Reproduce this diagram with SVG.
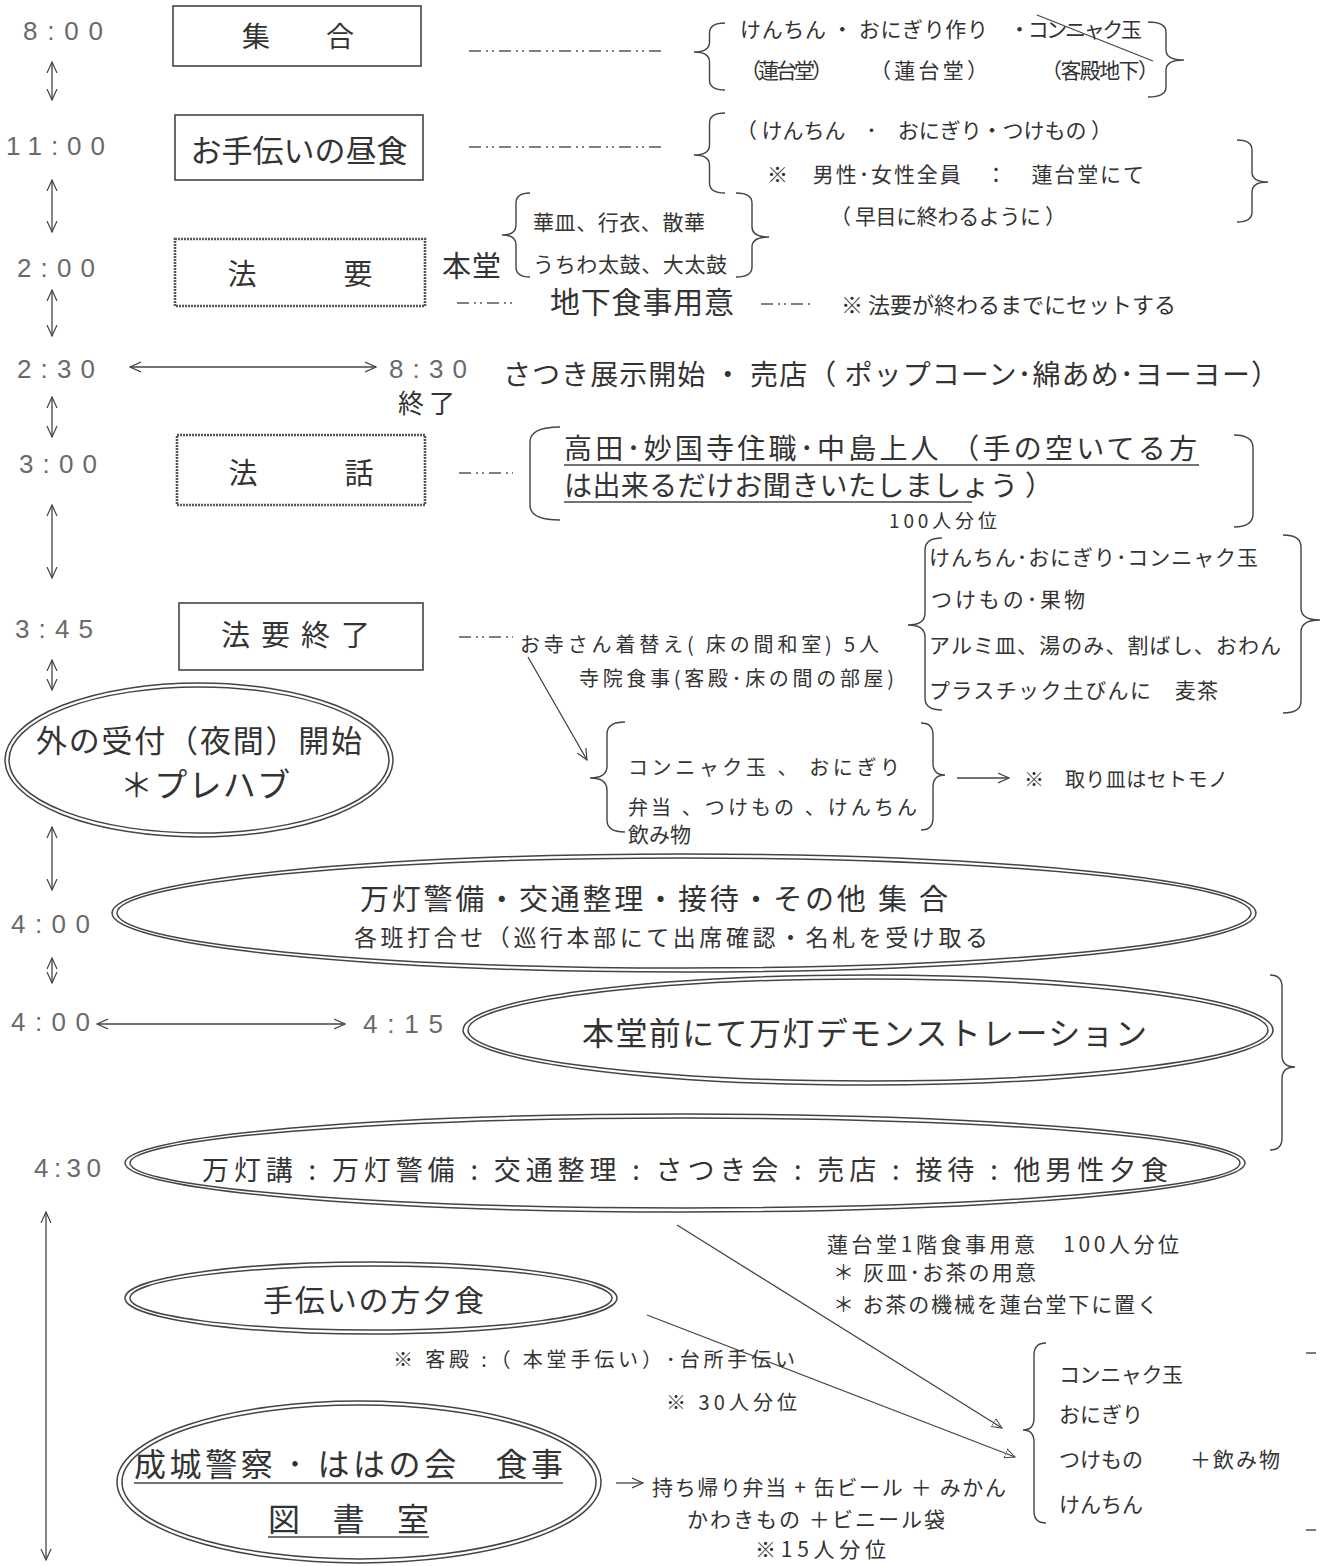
<svg xmlns="http://www.w3.org/2000/svg" width="1322" height="1566" viewBox="0 0 1322 1566">
<style>
text{font-family:"Noto Sans CJK JP","Liberation Sans",sans-serif;fill:#333}
.tm{font-family:"Liberation Sans","Noto Sans CJK JP",sans-serif;fill:#6a6a6a;font-size:26px}
.box{fill:none;stroke:#444;stroke-width:1.6}
.gbox{fill:none;stroke:#555;stroke-width:2.6;stroke-dasharray:2 1}
.ln{fill:none;stroke:#444;stroke-width:1.3}
.dd{fill:none;stroke:#555;stroke-width:1.6;stroke-dasharray:12 5 2 4 2 5}
.br{fill:none;stroke:#444;stroke-width:1.4}
.el{fill:none;stroke:#444;stroke-width:1.5}
.ul{stroke:#444;stroke-width:1.4}
.s20{font-size:20px}.s21{font-size:21px}.s22{font-size:22px}
</style>
<defs>
<marker id="ah" viewBox="0 0 12 12" refX="11" refY="6" markerWidth="12" markerHeight="12" markerUnits="userSpaceOnUse" orient="auto-start-reverse"><path d="M0,1 L11,6 L0,11" fill="none" stroke="#444" stroke-width="1.2"/></marker>
<marker id="at" viewBox="0 0 12 12" refX="11" refY="6" markerWidth="11" markerHeight="11" markerUnits="userSpaceOnUse" orient="auto"><path d="M0,1 L11,6 L0,11 Z" fill="none" stroke="#444" stroke-width="1.1"/></marker>
</defs>

<g id="times">
<text class="tm" x="23" y="40" textLength="80">8:00</text>
<text class="tm" x="6" y="155" textLength="99">11:00</text>
<text class="tm" x="17" y="277" textLength="78">2:00</text>
<text class="tm" x="17" y="378" textLength="78">2:30</text>
<text class="tm" x="19" y="473" textLength="78">3:00</text>
<text class="tm" x="15" y="638" textLength="78">3:45</text>
<text class="tm" x="11" y="933" textLength="79">4:00</text>
<text class="tm" x="11" y="1031" textLength="79">4:00</text>
<text class="tm" x="34" y="1177" textLength="67">4:30</text>
<text class="tm" x="389" y="378" textLength="78">8:30</text>
<text class="tm" x="363" y="1033" textLength="80">4:15</text>
</g>

<g id="connectors">
<line class="ln" x1="52" y1="62" x2="52" y2="100" marker-start="url(#ah)" marker-end="url(#ah)"/>
<line class="ln" x1="52" y1="180" x2="52" y2="232" marker-start="url(#ah)" marker-end="url(#ah)"/>
<line class="ln" x1="52" y1="290" x2="52" y2="336" marker-start="url(#ah)" marker-end="url(#ah)"/>
<line class="ln" x1="52" y1="397" x2="52" y2="437" marker-start="url(#ah)" marker-end="url(#ah)"/>
<line class="ln" x1="52" y1="505" x2="52" y2="578" marker-start="url(#ah)" marker-end="url(#ah)"/>
<line class="ln" x1="52" y1="660" x2="52" y2="690" marker-start="url(#ah)" marker-end="url(#ah)"/>
<line class="ln" x1="52" y1="827" x2="52" y2="890" marker-start="url(#ah)" marker-end="url(#ah)"/>
<line class="ln" x1="52" y1="958" x2="52" y2="983" marker-start="url(#ah)" marker-end="url(#ah)"/>
<line class="ln" x1="46" y1="1212" x2="46" y2="1560" marker-start="url(#ah)" marker-end="url(#ah)"/>
<line class="ln" x1="130" y1="367" x2="376" y2="367" marker-start="url(#ah)" marker-end="url(#ah)"/>
<line class="ln" x1="97" y1="1024" x2="345" y2="1024" marker-start="url(#ah)" marker-end="url(#ah)"/>
<line class="dd" x1="469" y1="51" x2="663" y2="51"/>
<line class="dd" x1="469" y1="147" x2="663" y2="147"/>
<line class="dd" x1="457" y1="303" x2="512" y2="303"/>
<line class="dd" x1="761" y1="304" x2="814" y2="304"/>
<line class="dd" x1="459" y1="473" x2="513" y2="473"/>
<line class="dd" x1="459" y1="637" x2="513" y2="637"/>
<line class="ln" x1="528" y1="657" x2="587" y2="760" marker-end="url(#ah)"/>
<line class="ln" x1="957" y1="778" x2="1009" y2="778" marker-end="url(#ah)"/>
<line class="ln" x1="616" y1="1483" x2="643" y2="1483" marker-end="url(#ah)"/>
<line class="ln" x1="677" y1="1225" x2="1002" y2="1428" marker-end="url(#at)"/>
<line class="ln" x1="647" y1="1315" x2="1015" y2="1457" marker-end="url(#at)"/>
</g>

<g id="braces">
<path class="br" d="M725,23 Q709.5,23 709.5,33 L709.5,42 Q709.5,52 694,52 Q709.5,52 709.5,62 L709.5,80 Q709.5,90 725,90"/>
<path class="br" d="M1148,22 Q1166,22 1166,32 L1166,50 Q1166,60 1184,60 Q1166,60 1166,70 L1166,87 Q1166,97 1148,97"/>
<path class="br" d="M725,113 Q709.5,113 709.5,123 L709.5,145 Q709.5,155 694,155 Q709.5,155 709.5,165 L709.5,183 Q709.5,193 725,193"/>
<path class="br" d="M1237,140 Q1252,140 1252,150 L1252,172 Q1252,182 1268,182 Q1252,182 1252,192 L1252,212 Q1252,222 1237,222"/>
<path class="br" d="M530,193 Q516,193 516,203 L516,225 Q516,235 502,235 Q516,235 516,245 L516,267 Q516,277 530,277"/>
<path class="br" d="M736,193 Q752,193 752,203 L752,227 Q752,237 769,237 Q752,237 752,247 L752,267 Q752,277 736,277"/>
<path class="br" d="M560,427 Q530,427 530,442 L530,505 Q530,520 560,520"/>
<path class="br" d="M1234,435 Q1253,435 1253,448 L1253,514 Q1253,527 1234,527"/>
<path class="br" d="M942,538 Q925,538 925,550 L925,613 Q925,625 908,625 Q925,625 925,637 L925,698 Q925,710 942,710"/>
<path class="br" d="M1283,535 Q1301,535 1301,547 L1301,608 Q1301,620 1320,620 Q1301,620 1301,632 L1301,701 Q1301,713 1283,713"/>
<path class="br" d="M625,722 Q607,722 607,734 L607,766 Q607,778 590,778 Q607,778 607,790 L607,820 Q607,832 625,832"/>
<path class="br" d="M921,723 Q933,723 933,735 L933,763 Q933,775 945,775 Q933,775 933,787 L933,818 Q933,830 921,830"/>
<path class="br" d="M1270,975 Q1282,975 1282,987 L1282,1055 Q1282,1067 1295,1067 Q1282,1067 1282,1079 L1282,1138 Q1282,1150 1270,1150"/>
<path class="br" d="M1046,1343 Q1034,1343 1034,1355 L1034,1418 Q1034,1430 1023,1430 Q1034,1430 1034,1442 L1034,1511 Q1034,1523 1046,1523"/>
<line class="br" x1="1306" y1="1353" x2="1316" y2="1353"/>
<line class="br" x1="1306" y1="1530" x2="1316" y2="1530"/>
</g>

<g id="n-shugo">
<rect class="box" x="173" y="6" width="248" height="60"/>
<text x="298" y="47" font-size="28" text-anchor="middle">集　　合</text>
</g>
<g id="n-chushoku">
<rect class="box" x="175" y="115" width="248" height="65"/>
<text x="299" y="162" font-size="31" text-anchor="middle">お手伝いの昼食</text>
</g>
<g id="n-hoyo">
<rect class="gbox" x="175" y="239" width="250" height="67"/>
<text x="300" y="285" font-size="29" text-anchor="middle">法　　　要</text>
</g>
<g id="n-howa">
<rect class="gbox" x="177" y="435" width="248" height="70"/>
<text x="301" y="484" font-size="29" text-anchor="middle">法　　　話</text>
</g>
<g id="n-shuryo">
<rect class="box" x="179" y="603" width="244" height="67"/>
<text x="301" y="646" font-size="29" text-anchor="middle" letter-spacing="11">法要終了</text>
</g>

<g id="row1-notes" class="s21">
<text x="740" y="37" textLength="248">けんちん ・ おにぎり作り</text>
<text x="1009" y="37" textLength="133">・コンニャク玉</text>
<line class="ln" x1="1037" y1="15" x2="1153" y2="61"/>
<text x="740" y="78" textLength="93">（蓮台堂）</text>
<text x="870" y="78" textLength="118">（ 蓮 台 堂 ）</text>
<text x="1041" y="78" textLength="118">（客殿地下）</text>
</g>
<g id="row2-notes" class="s21">
<text x="736" y="138" textLength="376">（ けんちん　･　おにぎり・つけもの ）</text>
<text x="767" y="182" textLength="377">※　男性･女性全員　：　蓮台堂にて</text>
<text x="830" y="224" textLength="236">（ 早目に終わるように ）</text>
</g>
<g id="row3-notes">
<text x="442" y="277" font-size="29" textLength="59">本堂</text>
<text x="533" y="230" font-size="21" textLength="172">華皿、行衣、散華</text>
<text x="533" y="272" font-size="21" textLength="194">うちわ太鼓、大太鼓</text>
<text x="550" y="313" font-size="30" textLength="184">地下食事用意</text>
<text x="841" y="313" font-size="22" textLength="335">※ 法要が終わるまでにセットする</text>
</g>
<g id="row-satsuki">
<text x="398" y="413" font-size="26" textLength="57">終了</text>
<text x="503" y="385" font-size="28" textLength="776">さつき展示開始 ・ 売店（ ポップコーン･綿あめ･ヨーヨー）</text>
</g>
<g id="row-howa-notes">
<text x="564" y="459" font-size="28" textLength="633">高田･妙国寺住職･中島上人 （手の空いてる方</text>
<line class="ul" x1="564" y1="465" x2="1199" y2="465"/>
<text x="564" y="496" font-size="28" textLength="489">は出来るだけお聞きいたしましょう ）</text>
<line class="ul" x1="564" y1="502" x2="972" y2="502"/>
<text x="889" y="528" font-size="19" textLength="108">100人分位</text>
</g>
<g id="row-345-notes" class="s20">
<text x="520" y="652" textLength="359">お寺さん着替え( 床の間和室)  5人</text>
<text x="579" y="686" textLength="315">寺院食事(客殿･床の間の部屋)</text>
<text x="929" y="565" font-size="21" textLength="329">けんちん･おにぎり･コンニャク玉</text>
<text x="931" y="607" font-size="21" textLength="154">つけもの･果物</text>
<text x="929" y="653" font-size="21" textLength="352">アルミ皿、湯のみ、割ばし、おわん</text>
<text x="929" y="698" font-size="21" textLength="289">プラスチック土びんに　麦茶</text>
<text x="628" y="775" textLength="272">コンニャク玉 、 おにぎり</text>
<text x="628" y="815" textLength="289">弁当 、つけもの 、けんちん</text>
<text x="628" y="842" font-size="21">飲み物</text>
<text x="1024" y="787" textLength="204">※　取り皿はセトモノ</text>
</g>

<g id="n-uketsuke">
<ellipse class="el" cx="199" cy="760" rx="194" ry="77"/>
<ellipse class="el" cx="199" cy="760" rx="190" ry="73"/>
<text x="36" y="752" font-size="31" textLength="326">外の受付（夜間）開始</text>
<text x="120" y="797" font-size="33" textLength="170">＊プレハブ</text>
</g>
<g id="n-mando">
<ellipse class="el" cx="684" cy="913" rx="572" ry="59"/>
<ellipse class="el" cx="684" cy="913" rx="567" ry="55"/>
<text x="360" y="910" font-size="29" textLength="588">万灯警備・交通整理・接待・その他 集 合</text>
<text x="354" y="946" font-size="23" textLength="634">各班打合せ（巡行本部にて出席確認・名札を受け取る</text>
</g>
<g id="n-demo">
<ellipse class="el" cx="868" cy="1030" rx="405" ry="55"/>
<ellipse class="el" cx="868" cy="1030" rx="400" ry="51"/>
<text x="582" y="1045" font-size="32" textLength="565">本堂前にて万灯デモンストレーション</text>
</g>
<g id="n-dinner">
<ellipse class="el" cx="685" cy="1163" rx="560" ry="49"/>
<ellipse class="el" cx="685" cy="1163" rx="555" ry="45"/>
<text x="202" y="1180" font-size="27" textLength="966">万灯講 : 万灯警備 : 交通整理 : さつき会 : 売店 : 接待 : 他男性夕食</text>
</g>
<g id="n-rendai-notes" class="s21">
<text x="827" y="1252" textLength="352">蓮台堂1階食事用意　100人分位</text>
<text x="833" y="1280" textLength="203">＊ 灰皿･お茶の用意</text>
<text x="833" y="1312" textLength="325">＊ お茶の機械を蓮台堂下に置く</text>
</g>
<g id="n-tetsudai">
<ellipse class="el" cx="371" cy="1298" rx="246" ry="36"/>
<ellipse class="el" cx="371" cy="1298" rx="241" ry="32"/>
<text x="263" y="1311" font-size="30" textLength="221">手伝いの方夕食</text>
<text x="393" y="1367" font-size="20" textLength="402">※ 客殿 :（ 本堂手伝い）･台所手伝い</text>
<text x="666" y="1410" font-size="20" textLength="131">※ 30人分位</text>
</g>
<g id="n-seijo">
<ellipse class="el" cx="359" cy="1482" rx="242" ry="81"/>
<ellipse class="el" cx="359" cy="1482" rx="237" ry="77"/>
<text x="134" y="1476" font-size="32" textLength="429">成城警察 ･ ははの会　食事</text>
<line class="ul" x1="134" y1="1483" x2="563" y2="1483"/>
<text x="268" y="1531" font-size="32" textLength="161">図　書　室</text>
<line class="ul" x1="268" y1="1537" x2="429" y2="1537"/>
</g>
<g id="n-bento" class="s21">
<text x="652" y="1495" textLength="354">持ち帰り弁当 + 缶ビール ＋ みかん</text>
<text x="687" y="1527" textLength="258">かわきもの ＋ビニール袋</text>
<text x="755" y="1557" textLength="131">※15人分位</text>
</g>
<g id="n-menu" class="s21">
<text x="1059" y="1382" textLength="124">コンニャク玉</text>
<text x="1059" y="1422">おにぎり</text>
<text x="1059" y="1467">つけもの</text>
<text x="1190" y="1467" textLength="90">＋飲み物</text>
<text x="1059" y="1512">けんちん</text>
</g>
</svg>
